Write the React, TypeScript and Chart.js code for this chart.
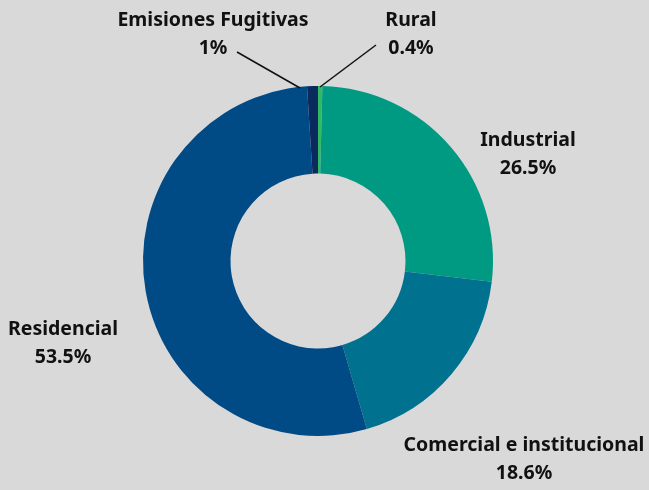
import React, { useEffect, useRef } from "react";
import { Chart, registerables } from "chart.js";

Chart.register(...registerables);

const categories = ["Rural", "Industrial", "Comercial e institucional", "Residencial", "Emisiones Fugitivas"];
const shares = [0.4, 26.5, 18.6, 53.5, 1];
const shareLabels = ["0.4%", "26.5%", "18.6%", "53.5%", "1%"];
const colors = ["#33b964", "#009a82", "#00718f", "#004a85", "#0b2a5e"];

// label placement (pixel centres of the two text lines) and optional leader line
const labelLayout = [
  { x: 411, y: 20, line: [376, 45, 320, 87] },
  { x: 528, y: 140 },
  { x: 524, y: 445 },
  { x: 63, y: 329 },
  { x: 213, y: 20, line: [237, 52, 300, 88] },
];

const labelPlugin = {
  id: "outerLabels",
  afterDraw(chart: any) {
    const ctx = chart.ctx;
    ctx.save();
    ctx.fillStyle = "#111111";
    ctx.font = "bold 19.5px 'Noto Sans', 'Open Sans', sans-serif";
    ctx.textAlign = "center";
    ctx.textBaseline = "middle";
    categories.forEach((c, i) => {
      const l = labelLayout[i];
      ctx.fillText(c, l.x, l.y);
      ctx.fillText(shareLabels[i], l.x, l.y + 28);
      if (l.line) {
        ctx.strokeStyle = "#111111";
        ctx.lineWidth = 1.5;
        ctx.beginPath();
        ctx.moveTo(l.line[0], l.line[1]);
        ctx.lineTo(l.line[2], l.line[3]);
        ctx.stroke();
      }
    });
    ctx.restore();
  },
};

export default function App() {
  const ref = useRef<HTMLCanvasElement>(null);
  useEffect(() => {
    document.body.style.margin = "0";
    document.body.style.background = "#d9d9d9";
    const chart = new Chart(ref.current as HTMLCanvasElement, {
      type: "doughnut",
      data: {
        labels: categories,
        datasets: [
          {
            data: shares,
            backgroundColor: colors,
            borderWidth: 0,
          },
        ],
      },
      options: {
        responsive: false,
        animation: false,
        cutout: "50%",
        layout: { padding: { top: 86, bottom: 54, left: 143, right: 156 } },
        plugins: { legend: { display: false }, tooltip: { enabled: false } },
      },
      plugins: [labelPlugin],
    });
    return () => chart.destroy();
  }, []);
  return (
    <div style={{ width: 649, height: 490, background: "#d9d9d9" }}>
      <canvas ref={ref} width={649} height={490} style={{ display: "block" }} />
    </div>
  );
}
